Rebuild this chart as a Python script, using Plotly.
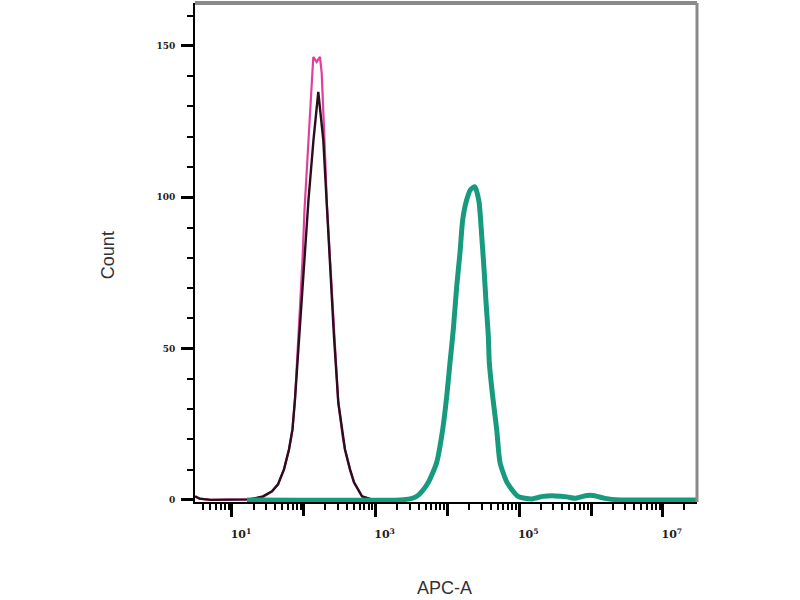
import plotly.graph_objects as go

# ---- data (x given as log10 of APC-A intensity, y = count) ----
pink_log = [0.485, 0.55, 0.70, 1.2507, 1.4318, 1.5571, 1.6407, 1.7242, 1.7939, 1.8426, 1.8774,
            1.9262, 1.9819, 2.0097, 2.0376, 2.0724, 2.0933, 2.1212, 2.1323, 2.1797, 2.2256,
            2.2493, 2.2674, 2.2883, 2.3231, 2.3719, 2.4206, 2.4805, 2.5418, 2.5738, 2.6435,
            2.6992, 2.8106, 2.9638]
pink_count = [1.0, 0.4, 0.0, 0.17, 0.99, 2.81, 5.12, 10.07, 16.67, 23.27, 33.17,
              52.97, 79.21, 95.71, 108.09, 122.28, 130.53, 142.08, 146.37, 144.72, 146.37,
              141.09, 132.18, 118.98, 96.86, 76.07, 53.96, 32.18, 20.96, 16.67, 10.07,
              5.78, 1.16, 0.0]

black_log = [0.485, 0.55, 0.70, 1.2507, 1.4318, 1.5571, 1.6407, 1.7242, 1.7939, 1.8426, 1.8774,
             1.9331, 1.9958, 2.0655, 2.1351, 2.2019, 2.2716, 2.3189, 2.3719, 2.4206, 2.4805,
             2.5418, 2.5738, 2.6435, 2.6992, 2.8106, 2.9638]
black_count = [1.2, 0.4, 0.0, 0.17, 1.16, 2.81, 5.12, 10.07, 16.67, 23.27, 33.17,
               52.97, 76.07, 99.17, 118.98, 134.82, 118.98, 96.86, 76.07, 53.96, 32.18,
               20.96, 16.67, 10.07, 5.78, 1.16, 0.0]

green_log = [1.2089, 3.3398, 3.4791, 3.5724, 3.6462, 3.7340, 3.8510, 3.9345, 3.9903, 4.0362,
             4.0822, 4.1295, 4.1755, 4.2131, 4.2688, 4.3217, 4.3844, 4.4401, 4.4777, 4.5097,
             4.5376, 4.5696, 4.5836, 4.6309, 4.6866, 4.7326, 4.8301, 4.9833, 5.1783, 5.3315,
             5.4986, 5.6657, 5.7772, 5.8886, 5.9861, 6.0836, 6.1950, 6.4039, 7.4763]
green_count = [0.0, 0.0, 0.33, 1.16, 2.81, 5.78, 12.38, 23.27, 34.16, 45.38,
               56.27, 70.46, 81.68, 92.57, 99.17, 102.5, 103.47, 98.51, 87.29, 76.4,
               65.51, 54.29, 45.38, 34.16, 23.27, 12.38, 5.78, 1.16, 0.33, 1.16,
               1.32, 0.99, 0.5, 1.16, 1.49, 1.16, 0.5, 0.0, 0.0]

x_label_exp = [1, 3, 5, 7]
x_label_text = ["10<sup>1</sup>", "10<sup>3</sup>", "10<sup>5</sup>", "10<sup>7</sup>"]
x_unlabeled_exp = [2, 4, 6]
y_tick_vals = [0, 50, 100, 150]
y_tick_text = ["0", "50", "100", "150"]

X_RANGE = [0.485, 7.476]

fig = go.Figure()

fig.add_trace(go.Scatter(x=[10 ** v for v in pink_log], y=pink_count, mode="lines",
                         line=dict(color="#e0409c", width=2.2), hoverinfo="skip"))
fig.add_trace(go.Scatter(x=[10 ** v for v in black_log], y=black_count, mode="lines",
                         line=dict(color="#2a0e1c", width=2.4), hoverinfo="skip"))
fig.add_trace(go.Scatter(x=[10 ** v for v in green_log], y=green_count, mode="lines",
                         line=dict(color="#179a7e", width=5, shape="spline", smoothing=0.6),
                         hoverinfo="skip"))
# invisible trace to activate the overlay axis carrying the unlabeled decade ticks
fig.add_trace(go.Scatter(x=[10 ** X_RANGE[0]], y=[0], xaxis="x2", mode="markers",
                         marker=dict(opacity=0), hoverinfo="skip"))

minor_x = [m * 10 ** d for d in range(0, 8) for m in range(2, 10)]
minor_y = [v for v in range(10, 161, 10) if v % 50 != 0]

fig.update_layout(
    width=800, height=600,
    margin=dict(l=195, r=103, t=3, b=98),
    paper_bgcolor="white", plot_bgcolor="white",
    showlegend=False,
    xaxis=dict(
        type="log", range=X_RANGE,
        tickmode="array", tickvals=[10 ** e for e in x_label_exp], ticktext=x_label_text,
        ticks="outside", ticklen=13, tickwidth=2.5, tickcolor="black",
        minor=dict(tickmode="array", tickvals=minor_x, ticks="outside", ticklen=6,
                   tickwidth=1.5, tickcolor="black", showgrid=False),
        showline=True, linecolor="black", linewidth=2,
        showgrid=False, zeroline=False,
        tickfont=dict(family="DejaVu Serif", size=11, color="#222", weight="bold"),
        ticklabelstandoff=8, ticklabelshift=9,
    ),
    xaxis2=dict(
        type="log", range=X_RANGE, overlaying="x", side="bottom", anchor="y",
        tickmode="array", tickvals=[10 ** e for e in x_unlabeled_exp],
        ticks="outside", ticklen=13, tickwidth=2.5, tickcolor="black",
        showticklabels=False, showline=False, showgrid=False, zeroline=False,
    ),
    yaxis=dict(
        range=[-0.7, 164.2],
        tickmode="array", tickvals=y_tick_vals, ticktext=y_tick_text,
        ticks="outside", ticklen=12, tickwidth=2.5, tickcolor="black",
        minor=dict(tickmode="array", tickvals=minor_y, ticks="outside", ticklen=6,
                   tickwidth=1.5, tickcolor="black", showgrid=False),
        showline=True, linecolor="black", linewidth=2,
        showgrid=False, zeroline=False,
        tickfont=dict(family="DejaVu Serif", size=9, color="#222", weight="bold"),
        ticklabelstandoff=4,
    ),
    shapes=[
        dict(type="line", xref="paper", yref="paper", x0=0, x1=1, y0=1, y1=1,
             line=dict(color="#8a8a8a", width=4)),
        dict(type="line", xref="paper", yref="paper", x0=1, x1=1, y0=0, y1=1,
             line=dict(color="#8a8a8a", width=3)),
    ],
    annotations=[
        dict(text="APC-A", xref="paper", yref="paper", x=0.497, y=-0.172,
             xanchor="center", yanchor="middle", showarrow=False,
             font=dict(family="Liberation Sans", size=18, color="#333")),
        dict(text="Count", xref="paper", yref="paper", x=-0.173, y=0.495,
             xanchor="center", yanchor="middle", showarrow=False, textangle=-90,
             font=dict(family="Liberation Sans", size=18, color="#333")),
    ],
)

fig.write_html("out.html", config={"displayModeBar": False},
               post_script="document.body.style.margin='0';")
